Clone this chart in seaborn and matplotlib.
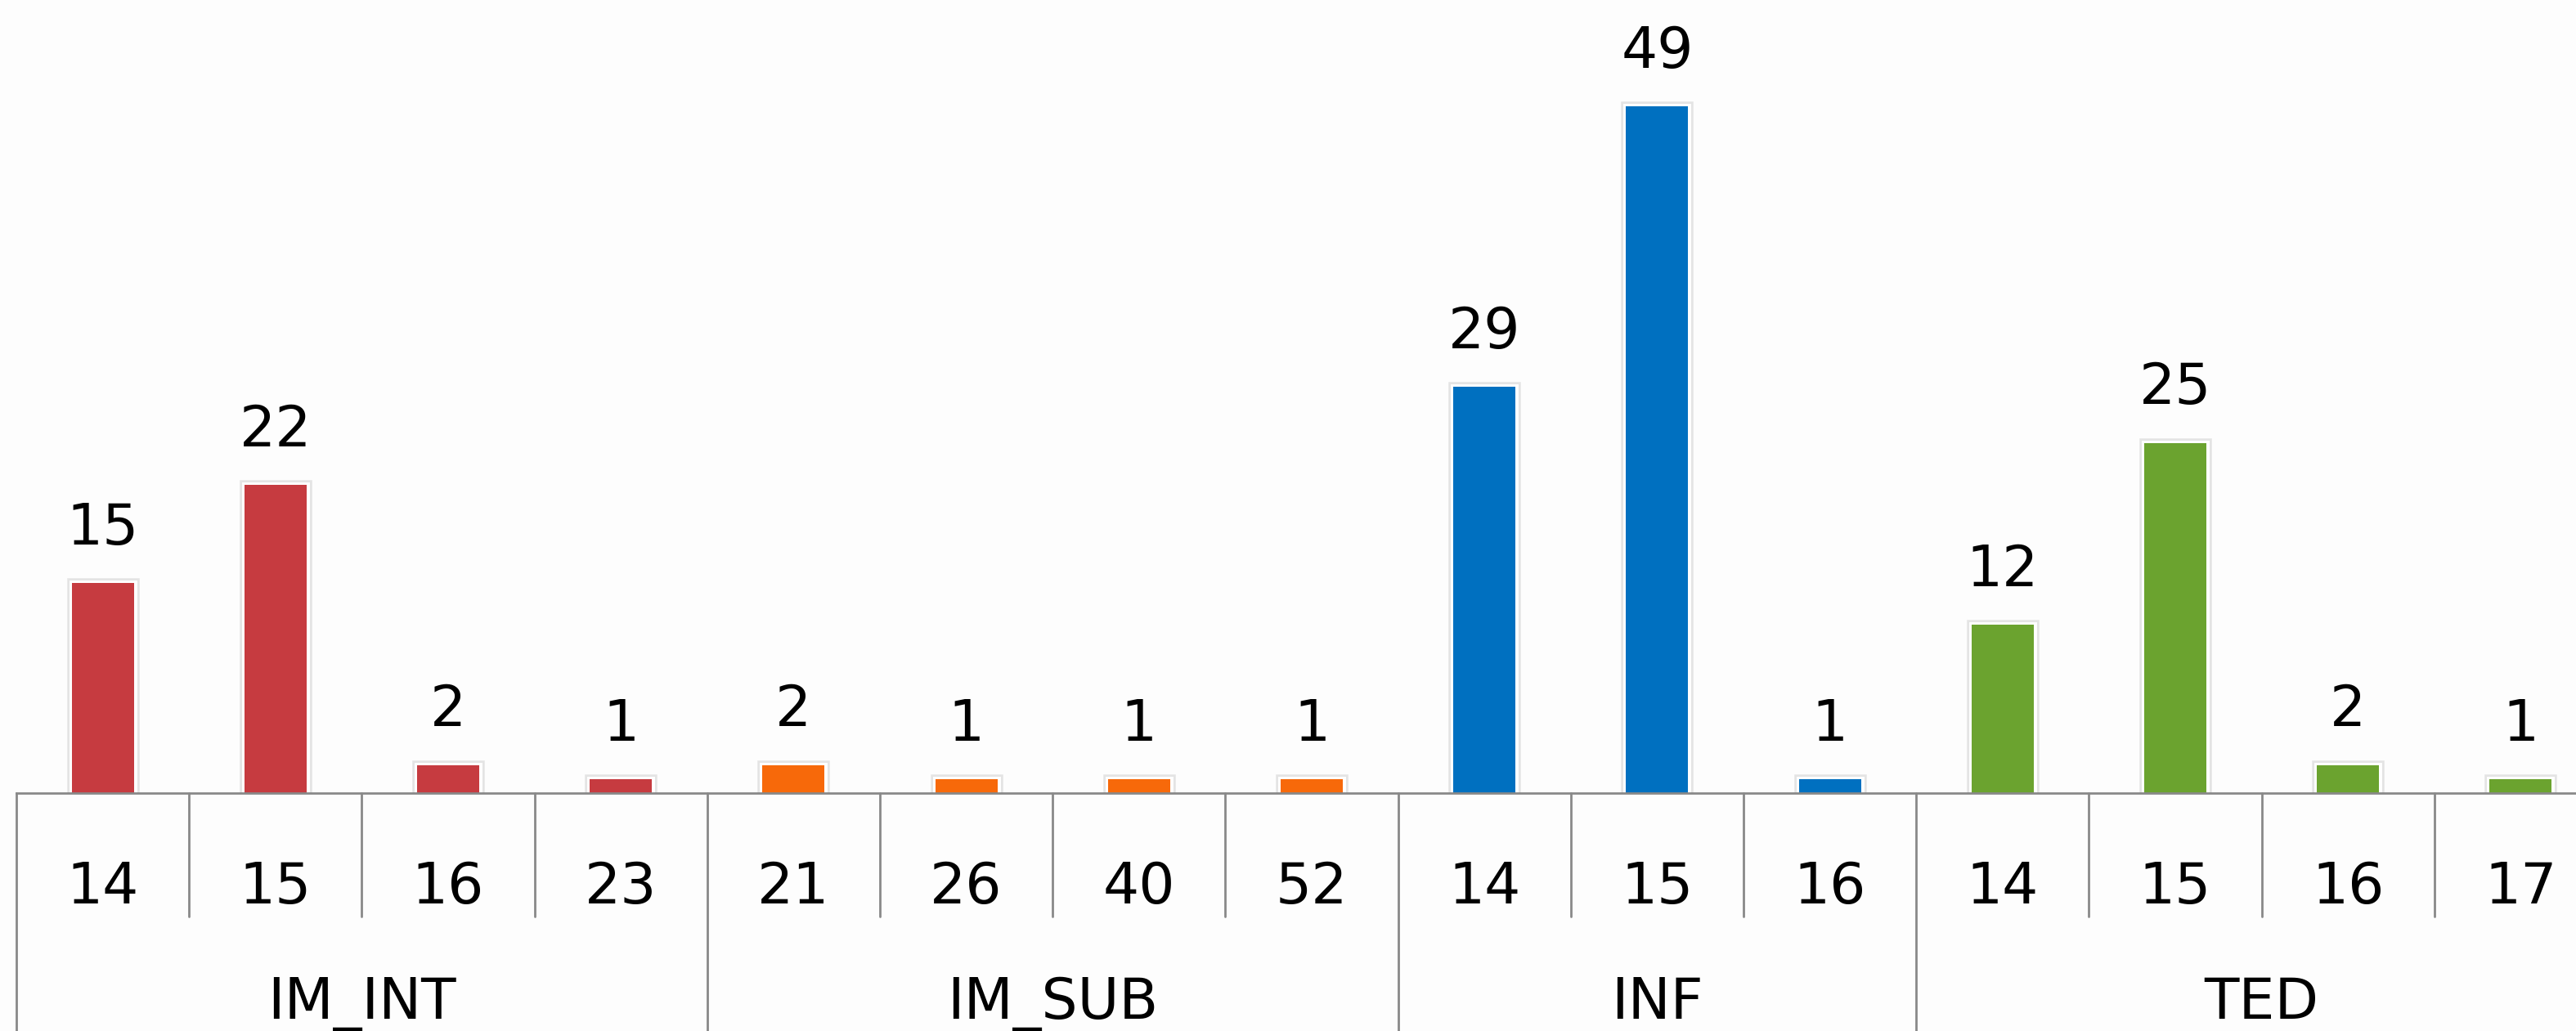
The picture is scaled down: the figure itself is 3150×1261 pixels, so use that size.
import matplotlib
matplotlib.use("Agg")
import matplotlib.pyplot as plt
import matplotlib.patheffects as pe
import matplotlib.transforms as mtransforms
import seaborn as sns
import pandas as pd

# data
groups = ["IM_INT", "IM_SUB", "INF", "TED"]
im_int_ticks = ["14", "15", "16", "23"]
im_int_vals = [15, 22, 2, 1]
im_sub_ticks = ["21", "26", "40", "52"]
im_sub_vals = [2, 1, 1, 1]
inf_ticks = ["14", "15", "16"]
inf_vals = [29, 49, 1]
ted_ticks = ["14", "15", "16", "17"]
ted_vals = [12, 25, 2, 1]
colors = ["#C63B40", "#F7690A", "#0070C0", "#6BA32F"]

rows = []
for g, ticks, vals in zip(groups,
                          [im_int_ticks, im_sub_ticks, inf_ticks, ted_ticks],
                          [im_int_vals, im_sub_vals, inf_vals, ted_vals]):
    for t, v in zip(ticks, vals):
        rows.append({"slot": f"{g}|{t}", "tick": t, "group": g, "value": v})
df = pd.DataFrame(rows)

sns.set_style("white")
plt.rcParams["font.family"] = ["DejaVu Sans"]

W, H = 3150, 1261
fig = plt.figure(figsize=(W / 100, H / 100), dpi=100, facecolor="#fdfdfd")
# axes: left edge at x=20px, baseline at y=970px, runs past right border
ax = fig.add_axes([20 / W, (H - 970) / H, 3168 / W, 970 / H])
ax.set_facecolor("#fdfdfd")

sns.barplot(data=df, x="slot", y="value", hue="group", order=list(df["slot"]),
            hue_order=groups, palette=colors, dodge=False, width=0.36,
            saturation=1, edgecolor="none", legend=False, ax=ax)

for p in ax.patches:
    p.set_path_effects([pe.Stroke(linewidth=9, foreground="#e4e4e4"),
                        pe.Stroke(linewidth=5, foreground="white"),
                        pe.Normal()])

for cont in ax.containers:
    ax.bar_label(cont, fmt="%d", padding=24, fontsize=50, color="black")

n = len(df)
ax.set_xlim(-0.5, n - 0.5)
ax.set_ylim(0, 56.6)
ax.set_xticks([])
ax.set_yticks([])
ax.set_xlabel("")
ax.set_ylabel("")
for s in ["top", "left", "right"]:
    ax.spines[s].set_visible(False)
ax.spines["bottom"].set_color("#898989")
ax.spines["bottom"].set_linewidth(2)

# multi-level category axis
trans = mtransforms.blended_transform_factory(ax.transData, ax.transAxes)
line_kw = dict(color="#898989", lw=2, transform=trans, clip_on=False)
bottom = -(H - 970) / 970
inner_bottom = -(1121 - 970) / 970

for i, t in enumerate(df["tick"]):
    ax.text(i, -0.139, t, transform=trans, ha="center", va="baseline",
            fontsize=50, color="black")

start = 0
ax.plot([-0.5, -0.5], [0, bottom], **line_kw)
for g in groups:
    size = (df["group"] == g).sum()
    for k in range(1, size):
        x = start + k - 0.5
        ax.plot([x, x], [0, inner_bottom], **line_kw)
    end = start + size - 0.5
    ax.plot([end, end], [0, bottom], **line_kw)
    ax.text((start - 0.5 + end) / 2, -0.285, g, transform=trans,
            ha="center", va="baseline", fontsize=50, color="black")
    start += size

fig.savefig("out.png", dpi=100, facecolor=fig.get_facecolor())
